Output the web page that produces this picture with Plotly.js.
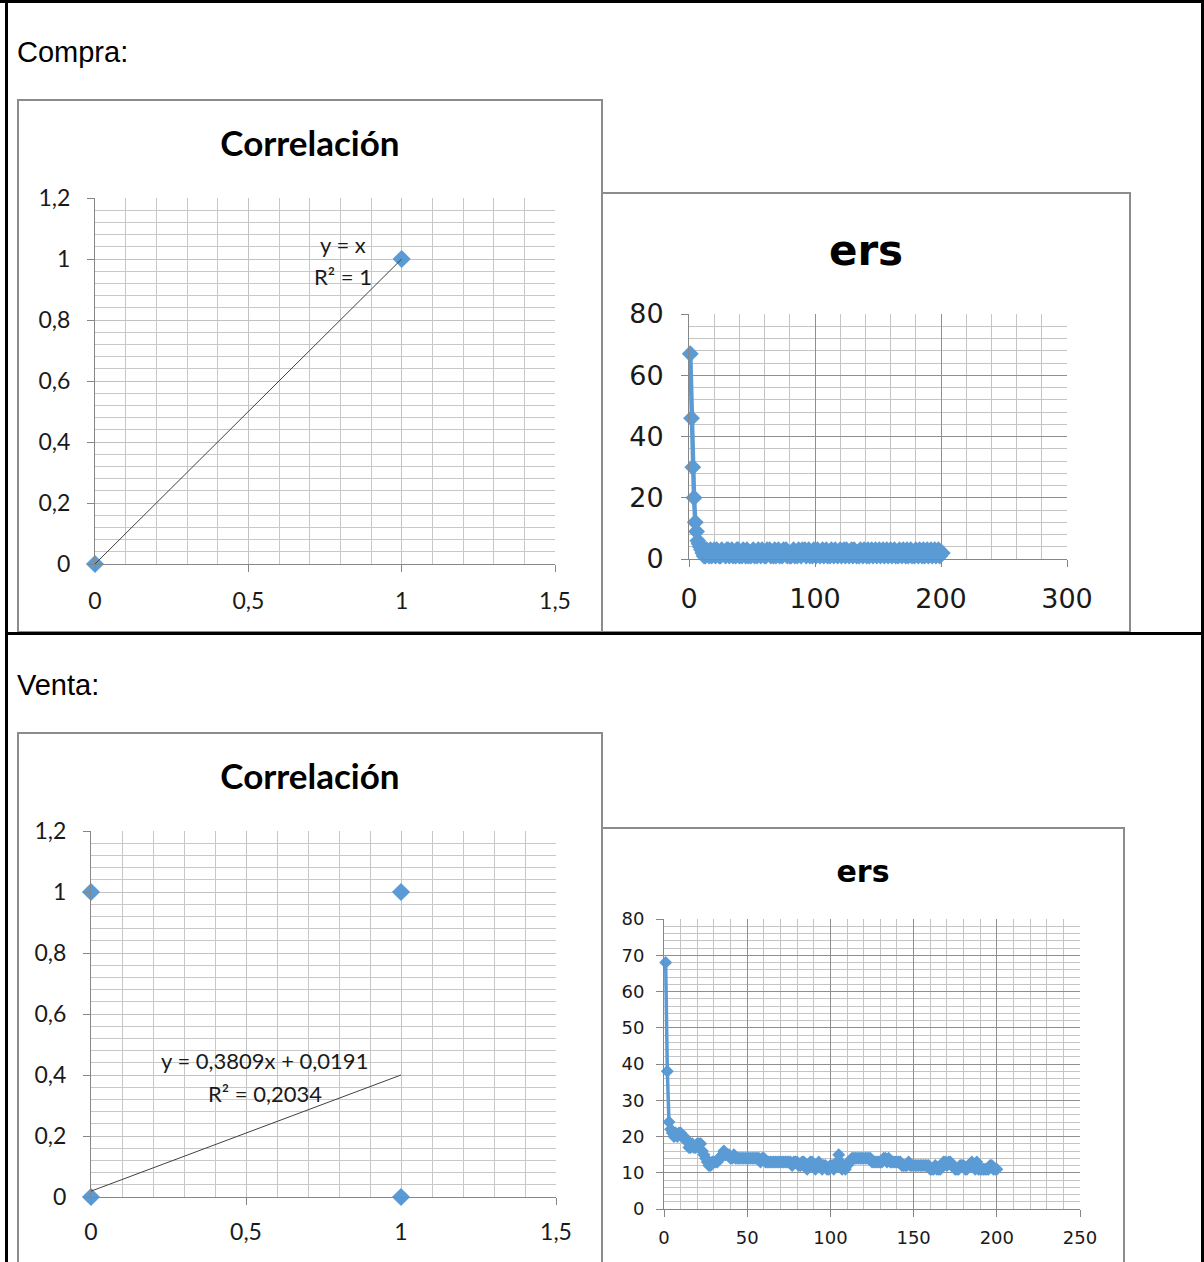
<!DOCTYPE html>
<html>
<head>
<meta charset="utf-8">
<script src="https://cdn.plot.ly/plotly-3.0.1.min.js"></script>
<style>
  html, body { margin: 0; padding: 0; background: #fff; }
  body { position: relative; width: 1204px; height: 1262px; overflow: hidden; }
  .rule { position: absolute; background: #000; }
  .label { position: absolute; font-family: "Liberation Sans", Arial, sans-serif; font-size: 29px; line-height: 29px; color: #000; }
  .chart { position: absolute; }
  .frame { position: absolute; box-sizing: border-box; border: 2px solid #8c8c8c; pointer-events: none; }
</style>
</head>
<body>
  <div class="chart" id="compraCorr" style="left:17px;top:99px;width:586px;height:534px;"></div>
  <div class="frame" style="left:17px;top:99px;width:586px;height:534px;"></div>
  <div class="chart" id="compraErs" style="left:601px;top:192px;width:530px;height:441px;"></div>
  <div class="frame" style="left:601px;top:192px;width:530px;height:441px;"></div>
  <div class="chart" id="ventaCorr" style="left:17px;top:732px;width:586px;height:560px;"></div>
  <div class="frame" style="left:17px;top:732px;width:586px;height:560px;"></div>
  <div class="chart" id="ventaErs" style="left:601px;top:827px;width:524px;height:460px;"></div>
  <div class="frame" style="left:601px;top:827px;width:524px;height:460px;"></div>

  <div class="label" style="left:17px;top:38px;">Compra:</div>
  <div class="label" style="left:17px;top:671px;">Venta:</div>

  <div class="rule" style="left:0;top:0;width:1204px;height:3px;"></div>
  <div class="rule" style="left:5px;top:0;width:3px;height:1262px;"></div>
  <div class="rule" style="left:1201px;top:0;width:3px;height:1262px;"></div>
  <div class="rule" style="left:5px;top:632px;width:1199px;height:3px;"></div>

<script>
// ---- Correlación (Compra) ----
const compraCorrX = [0, 1];
const compraCorrY = [0, 1];
const compraTrend = { slope: 1, intercept: 0 };
const compraTrendLabel = ['y = x', 'R² = 1'];

// ---- Correlación (Venta) ----
const ventaCorrX = [0, 1, 0, 1];
const ventaCorrY = [1, 1, 0, 0];
const ventaTrend = { slope: 0.3809, intercept: 0.0191 };
const ventaTrendLabel = ['y = 0,3809x + 0,0191', 'R² = 0,2034'];

const trendSpanX = [0, 1];

const corrXTickVals = [0, 0.5, 1, 1.5];
const corrXTickText = ['0', '0,5', '1', '1,5'];
const corrYTickVals = [0, 0.2, 0.4, 0.6, 0.8, 1, 1.2];
const corrYTickText = ['0', '0,2', '0,4', '0,6', '0,8', '1', '1,2'];

// ---- ers (Compra), one value per step starting at 1 ----
const compraErs = [
  67, 46, 30, 20, 12, 9, 6, 5, 4, 3,
  2, 1, 1, 3, 2, 1, 3, 1, 2, 3,
  1, 3, 2, 1, 1, 3, 2, 2, 1, 3,
  3, 1, 2, 3, 1, 2, 1, 3, 3, 1,
  2, 1, 3, 2, 1, 3, 1, 2, 1, 2,
  3, 1, 2, 1, 3, 2, 1, 3, 2, 1,
  1, 3, 2, 3, 1, 2, 1, 3, 1, 2,
  3, 1, 2, 1, 3, 2, 3, 1, 2, 1,
  1, 2, 3, 1, 2, 1, 3, 2, 1, 3,
  2, 3, 1, 2, 3, 1, 2, 1, 3, 2,
  1, 3, 2, 1, 2, 3, 1, 2, 3, 1,
  2, 1, 3, 2, 1, 3, 2, 1, 2, 3,
  1, 2, 3, 1, 3, 2, 1, 2, 3, 1,
  3, 2, 1, 2, 1, 3, 2, 1, 3, 2,
  1, 3, 1, 2, 3, 1, 2, 3, 1, 2,
  3, 1, 2, 3, 1, 2, 3, 1, 2, 3,
  1, 2, 3, 1, 2, 1, 3, 2, 1, 3,
  2, 1, 3, 1, 2, 3, 1, 2, 1, 3,
  2, 1, 3, 2, 1, 3, 1, 2, 3, 1,
  2, 3, 1, 2, 3, 1, 2, 3, 1, 2,
  2
];
const compraErsXTicks = [0, 100, 200, 300];
const compraErsYTicks = [0, 20, 40, 60, 80];

// ---- ers (Venta), one value per step starting at 1 ----
const ventaErs = [
  68, 38, 24, 22, 21, 20, 21, 20, 21, 21,
  20, 20, 19, 19, 17, 17, 18, 17, 17, 18,
  18, 18, 16, 15, 14, 13, 12, 12, 13, 13,
  13, 13, 14, 14, 15, 16, 15, 15, 15, 14,
  14, 15, 14, 14, 14, 14, 14, 14, 14, 14,
  14, 14, 14, 14, 14, 14, 14, 13, 14, 14,
  13, 13, 13, 13, 13, 13, 13, 13, 13, 13,
  13, 13, 13, 13, 13, 13, 12, 13, 13, 13,
  12, 12, 13, 13, 12, 11, 12, 13, 13, 12,
  11, 12, 13, 12, 11, 12, 12, 11, 11, 12,
  12, 11, 12, 13, 15, 13, 11, 12, 11, 12,
  13, 13, 14, 14, 14, 14, 14, 14, 14, 14,
  14, 14, 14, 14, 13, 13, 13, 13, 13, 13,
  13, 14, 14, 13, 14, 13, 13, 13, 13, 13,
  13, 13, 12, 12, 12, 12, 13, 12, 12, 12,
  12, 12, 12, 12, 12, 12, 12, 12, 12, 11,
  11, 11, 12, 11, 11, 11, 12, 13, 13, 12,
  13, 13, 12, 12, 11, 11, 11, 12, 12, 12,
  11, 11, 12, 12, 13, 12, 11, 13, 11, 11,
  11, 11, 11, 11, 11, 12, 12, 11, 11, 11
];
const ventaErsXTicks = [0, 50, 100, 150, 200, 250];
const ventaErsYTicks = [0, 10, 20, 30, 40, 50, 60, 70, 80];

// ---- shared styling ----
const BLUE = '#5B9BD5';
const AXIS = '#868686';
const TEXT = '#1a1a1a';
const corrFont = 'Lato, "Open Sans", sans-serif';
const ersFont = '"DejaVu Sans", Verdana, sans-serif';
const config = { staticPlot: true, displayModeBar: false };

function axis(opts) {
  return Object.assign({
    tickmode: 'array',
    showline: true, linecolor: AXIS, linewidth: 1,
    ticks: 'outside', ticklen: 7, tickcolor: AXIS, tickwidth: 1,
    showgrid: true, gridwidth: 1,
    zeroline: false, fixedrange: true
  }, opts);
}

function corrChart(id, xs, ys, trend, labels, labelPos, margin, titleY, tickSize, xStand) {
  const trendY = trendSpanX.map(x => trend.slope * x + trend.intercept);
  const data = [
    { type: 'scatter', mode: 'markers', x: xs, y: ys, cliponaxis: false,
      marker: { symbol: 'diamond', size: 14, color: BLUE, line: { width: 0 } }, showlegend: false },
    { type: 'scatter', mode: 'lines', x: trendSpanX, y: trendY, cliponaxis: false,
      line: { color: '#404040', width: 1 }, showlegend: false }
  ];
  const layout = {
    width: document.getElementById(id).offsetWidth,
    height: document.getElementById(id).offsetHeight,
    margin: margin,
    paper_bgcolor: 'rgba(0,0,0,0)', plot_bgcolor: 'rgba(0,0,0,0)',
    font: { family: corrFont, color: TEXT },
    title: { text: '<b>Correlación</b>', xref: 'container', x: 0.5, xanchor: 'center',
             yref: 'container', y: titleY, yanchor: 'middle',
             font: { family: corrFont, size: 35, color: '#000' } },
    xaxis: axis({ range: [0, 1.5], tickvals: corrXTickVals, ticktext: corrXTickText,
                  gridcolor: '#c2c2c2', ticklabelstandoff: xStand,
                  tickfont: { family: corrFont, size: tickSize, color: TEXT },
                  minor: { tickmode: 'linear', tick0: 0, dtick: 0.1, showgrid: true, gridcolor: '#c8c8c8', gridwidth: 1, ticks: '' } }),
    yaxis: axis({ range: [0, 1.2], tickvals: corrYTickVals, ticktext: corrYTickText,
                  gridcolor: '#c2c2c2', ticklabelstandoff: 12,
                  tickfont: { family: corrFont, size: tickSize, color: TEXT },
                  minor: { tickmode: 'linear', tick0: 0, dtick: 0.04, showgrid: true, gridcolor: '#c8c8c8', gridwidth: 1, ticks: '' } }),
    annotations: labels.map((t, i) => ({
      text: t, x: labelPos[i][0], y: labelPos[i][1], xref: 'x', yref: 'y',
      showarrow: false, xanchor: 'center', yanchor: 'middle',
      font: { family: corrFont, size: 22, color: TEXT }
    }))
  };
  Plotly.newPlot(id, data, layout, config);
}

function ersChart(id, values, xTicks, yTicks, xMinor, yMinor, xMax, yMax, margin, titleY, titleSize, tickSize, markerSize, lineWidth, xStand, yStand) {
  const data = [{
    type: 'scatter', mode: 'lines+markers', x0: 1, dx: 1, y: values, cliponaxis: false,
    line: { color: BLUE, width: lineWidth },
    marker: { symbol: 'diamond', size: markerSize, color: BLUE, line: { width: 0 } },
    showlegend: false
  }];
  const layout = {
    width: document.getElementById(id).offsetWidth,
    height: document.getElementById(id).offsetHeight,
    margin: margin,
    paper_bgcolor: 'rgba(0,0,0,0)', plot_bgcolor: 'rgba(0,0,0,0)',
    font: { family: ersFont, color: TEXT },
    title: { text: '<b>ers</b>', xref: 'container', x: 0.5, xanchor: 'center',
             yref: 'container', y: titleY, yanchor: 'middle',
             font: { family: ersFont, size: titleSize, color: '#000' } },
    xaxis: axis({ range: [0, xMax], tickvals: xTicks, ticktext: xTicks.map(String),
                  gridcolor: '#8f8f8f', ticklabelstandoff: xStand,
                  tickfont: { family: ersFont, size: tickSize, color: TEXT },
                  minor: { tickmode: 'linear', tick0: 0, dtick: xMinor, showgrid: true, gridcolor: '#c4c4c4', gridwidth: 1, ticks: '' } }),
    yaxis: axis({ range: [0, yMax], tickvals: yTicks, ticktext: yTicks.map(String),
                  gridcolor: '#8f8f8f', ticklabelstandoff: yStand,
                  tickfont: { family: ersFont, size: tickSize, color: TEXT },
                  minor: { tickmode: 'linear', tick0: 0, dtick: yMinor, showgrid: true, gridcolor: '#c4c4c4', gridwidth: 1, ticks: '' } })
  };
  Plotly.newPlot(id, data, layout, config);
}

corrChart('compraCorr', compraCorrX, compraCorrY, compraTrend, compraTrendLabel,
  [[0.81, 1.046], [0.81, 0.944]],
  { l: 78, r: 48, t: 99, b: 69 }, 1 - 45 / 534, 23, 9);

corrChart('ventaCorr', ventaCorrX, ventaCorrY, ventaTrend, ventaTrendLabel,
  [[0.561, 0.446], [0.561, 0.341]],
  { l: 74, r: 47, t: 99, b: 95 }, 1 - 45 / 560, 23, 7);

ersChart('compraErs', compraErs, compraErsXTicks, compraErsYTicks, 20, 4, 300, 80,
  { l: 88, r: 64, t: 122, b: 74 }, 1 - 58 / 441, 42, 27, 13, 4.5, 9, 12);

ersChart('ventaErs', ventaErs, ventaErsXTicks, ventaErsYTicks, 10, 2, 250, 80,
  { l: 63, r: 45, t: 92, b: 78 }, 1 - 44 / 460, 30, 18, 10, 3.5, 5, 8);
</script>
</body>
</html>
